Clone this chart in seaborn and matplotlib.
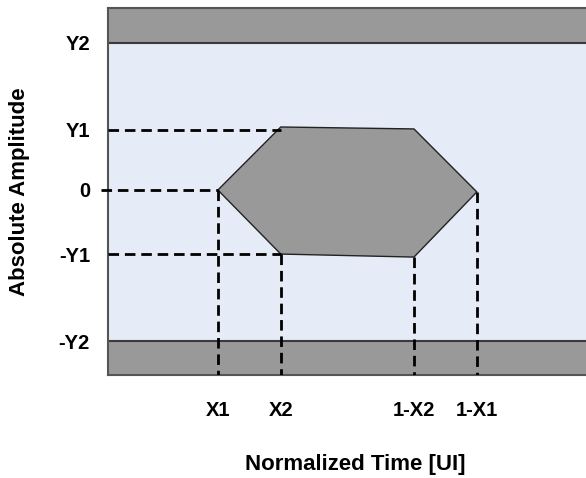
import matplotlib
matplotlib.use("Agg")
import matplotlib.pyplot as plt
import seaborn as sns

# amplitude levels (arbitrary units) and their labels
y_labels = ["Y2", "Y1", "0", "-Y1", "-Y2"]
y_levels = [0.98, 0.40, 0.0, -0.427, -1.007]

# time positions [UI] and labels
x_labels = ["X1", "X2", "1-X2", "1-X1"]
x_levels = [0.15, 0.32, 0.68, 0.85]

# eye mask (hexagon) vertices
mask_x = [0.15, 0.32, 0.68, 0.85, 0.68, 0.32]
mask_y = [0.0, 0.42, 0.407, -0.013, -0.447, -0.427]

x_range = (-0.147, 1.145)
y_range = (-1.233, 1.213)

bg_color = "#e6ecf7"
mask_color = "#999999"
edge_color = "#3a3a3a"

sns.set_theme(style="white")
plt.rcParams["font.family"] = ["Liberation Sans", "DejaVu Sans"]
plt.rcParams["font.weight"] = "bold"
plt.rcParams["text.color"] = "black"
plt.rcParams["axes.labelcolor"] = "black"

fig = plt.figure(figsize=(5.86, 4.78), dpi=100)
ax = fig.add_axes([108 / 586, 1 - 375 / 478, 1 - 108 / 586, 367 / 478])
ax.set_facecolor(bg_color)
ax.set_xlim(*x_range)
ax.set_ylim(*y_range)

# forbidden regions above Y2 and below -Y2
ax.axhspan(y_levels[0], y_range[1], color=mask_color, zorder=1, lw=0)
ax.axhspan(y_range[0], y_levels[-1], color=mask_color, zorder=1, lw=0)
for y in [y_levels[0], y_levels[-1]]:
    ax.axhline(y, color=edge_color, lw=1.5, zorder=2)

# central hexagon
ax.fill(mask_x, mask_y, facecolor=mask_color, edgecolor="#222222", lw=1.0, zorder=3)

dash = dict(color="black", lw=2, linestyle=(0, (3.8, 2.1)), zorder=4)
# horizontal guides from the axis to the hexagon
ax.plot([x_range[0], mask_x[1]], [y_levels[1], y_levels[1]], **dash)
ax.plot([x_range[0] - 0.02, mask_x[0]], [y_levels[2], y_levels[2]], clip_on=False, **dash)
ax.plot([x_range[0], mask_x[5]], [y_levels[3], y_levels[3]], **dash)
# vertical guides from the hexagon down to the axis
for xv, yv in zip([mask_x[0], mask_x[5], mask_x[4], mask_x[3]],
                  [mask_y[0], mask_y[5], mask_y[4], mask_y[3]]):
    ax.plot([xv, xv], [yv, y_range[0]], **dash)

ax.set_yticks(y_levels)
ax.set_yticklabels(y_labels, fontsize=14.5, fontweight="bold")
ax.set_xticks(x_levels)
ax.set_xticklabels(x_labels, fontsize=14.5, fontweight="bold")
ax.tick_params(axis="y", length=0, pad=13, labelcolor="black")
ax.tick_params(axis="x", length=0, pad=19, labelcolor="black")

ax.set_xlabel("Normalized Time [UI]", fontsize=16, fontweight="bold")
ax.set_ylabel("Absolute Amplitude", fontsize=16, fontweight="bold")
ax.xaxis.set_label_coords(0.518, -0.215)
ax.yaxis.set_label_coords(-0.163, 0.4986)

for side in ["top", "bottom", "left"]:
    ax.spines[side].set_color("#555555")
    ax.spines[side].set_linewidth(1.5)
ax.spines["right"].set_visible(False)

fig.savefig("out.png", dpi=100)
